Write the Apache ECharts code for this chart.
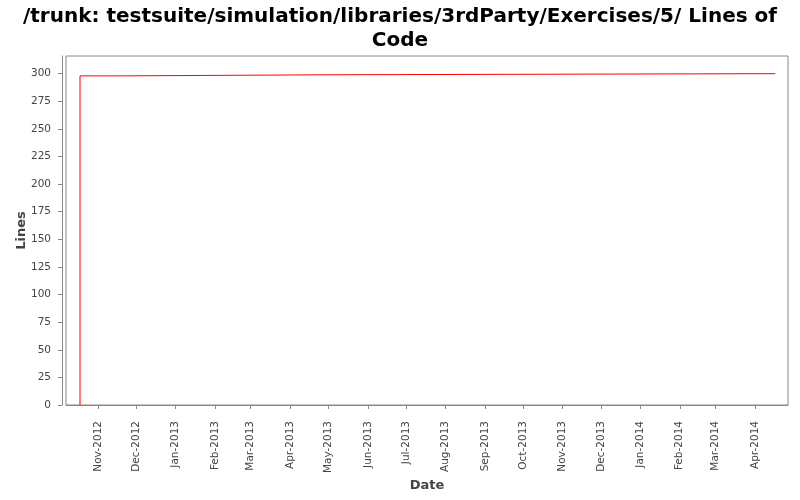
<!DOCTYPE html>
<html>
<head>
<meta charset="utf-8">
<script src="https://cdn.jsdelivr.net/npm/echarts@6/dist/echarts.min.js"></script>
<style>html,body{margin:0;padding:0;background:#fff}#c{width:800px;height:500px}</style>
</head>
<body>
<div id="c"></div>
<script>
var titleText = "/trunk: testsuite/simulation/libraries/3rdParty/Exercises/5/ Lines of\nCode";
var dates = ["2012-10-18", "2012-11-20", "2013-05-01", "2014-04-17"];
var lines = [0, 298, 299, 300];
var xTickDates = ["2012-11-01","2012-12-01","2013-01-01","2013-02-01","2013-03-01","2013-04-01","2013-05-01","2013-06-01","2013-07-01","2013-08-01","2013-09-01","2013-10-01","2013-11-01","2013-12-01","2014-01-01","2014-02-01","2014-03-01","2014-04-01"];
var xTickLabels = ["Nov-2012","Dec-2012","Jan-2013","Feb-2013","Mar-2013","Apr-2013","May-2013","Jun-2013","Jul-2013","Aug-2013","Sep-2013","Oct-2013","Nov-2013","Dec-2013","Jan-2014","Feb-2014","Mar-2014","Apr-2014"];
var yTicks = [0,25,50,75,100,125,150,175,200,225,250,275,300];

function ts(s){ var p = s.split('-'); return Date.UTC(+p[0], +p[1]-1, +p[2]); }
var xTickVals = xTickDates.map(ts);
var labelMap = {};
xTickVals.forEach(function(v,i){ labelMap[v] = xTickLabels[i]; });

var chart = echarts.init(document.getElementById('c'), null, {renderer:'canvas'});
chart.setOption({
  animation: false,
  backgroundColor: '#fff',
  title: {
    text: titleText,
    left: 'center',
    top: 0,
    textStyle: {fontFamily: 'DejaVu Sans', fontWeight: 'bold', fontSize: 20, color: '#000', lineHeight: 24}
  },
  grid: {left: 66, right: 12, top: 56, bottom: 95, show: true, borderColor: '#888', borderWidth: 1, backgroundColor: '#fff', containLabel: false, outerBoundsMode: 'none'},
  xAxis: {
    type: 'value',
    min: ts('2012-10-07'),
    max: ts('2014-04-27'),
    offset: 4,
    name: 'Date',
    nameLocation: 'middle',
    nameGap: 70,
    nameMoveOverlap: false,
    nameTextStyle: {fontFamily: 'DejaVu Sans', fontSize: 13, fontWeight: 'bold', color: '#444'},
    axisLine: {show: true, lineStyle: {color: '#888', width: 1}},
    axisTick: {show: true, length: 4, lineStyle: {color: '#888'}, customValues: xTickVals},
    axisLabel: {
      rotate: 90, fontFamily: 'DejaVu Sans', fontSize: 10.5, color: '#444', margin: 12,
      customValues: xTickVals,
      formatter: function(v){ return labelMap[v] || ''; }
    },
    splitLine: {show: false}
  },
  yAxis: {
    type: 'value',
    min: 0,
    max: 316,
    offset: 4,
    name: 'Lines',
    nameLocation: 'middle',
    nameGap: 34,
    nameMoveOverlap: false,
    nameTextStyle: {fontFamily: 'DejaVu Sans', fontSize: 13, fontWeight: 'bold', color: '#444'},
    axisLine: {show: true, lineStyle: {color: '#888', width: 1}},
    axisTick: {show: true, length: 4, lineStyle: {color: '#888'}, customValues: yTicks},
    axisLabel: {fontFamily: 'DejaVu Sans', fontSize: 10.5, color: '#444', margin: 11, customValues: yTicks},
    splitLine: {show: false}
  },
  series: [{
    type: 'line',
    step: 'start',
    showSymbol: false,
    symbol: 'none',
    lineStyle: {color: '#ff0000', width: 1},
    data: dates.map(function(d,i){ return [ts(d), lines[i]]; })
  }]
});
</script>
</body>
</html>
